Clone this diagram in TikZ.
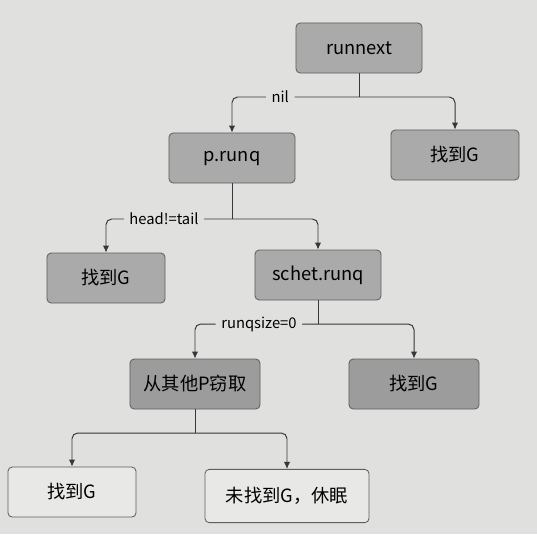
\documentclass[tikz,border=0pt]{standalone}
\usepackage{fontspec}
\setmainfont{Noto Sans CJK SC}
\usetikzlibrary{arrows.meta}
\definecolor{paper}{RGB}{224,224,222}
\definecolor{boxgray}{RGB}{170,170,170}
\definecolor{boxdark}{RGB}{156,156,156}
\definecolor{boxlight}{RGB}{232,232,230}
\definecolor{ink}{RGB}{55,55,55}

\begin{document}
\begin{tikzpicture}[x=0.025cm,y=-0.025cm,
  box/.style={draw=ink!80,line width=0.6pt,rounded corners=3pt,fill=boxgray,minimum width=3.15cm,minimum height=1.25cm,font=\fontsize{13}{15}\selectfont},
  arr/.style={draw=ink,line width=0.7pt,rounded corners=4pt,-{Latex[length=5pt,width=4.5pt]}},
  cond/.style={fill=paper,inner xsep=4pt,inner ysep=2pt,font=\fontsize{10.5}{12}\selectfont}]
\fill[paper] (0,0) rectangle (537,534);
\useasboundingbox (0,0) rectangle (537,534);
\node[box] (runnext) at (359,48) {runnext};
\node[box] (prunq) at (232,158) {p.runq};
\node[box,minimum width=3.2cm] (foundA) at (455,155) {找到G};
\node[box,minimum width=2.95cm] (foundB) at (106,278) {找到G};
\node[box] (schet) at (318,275) {schet.runq};
\node[box,minimum width=3.25cm,fill=boxgray!92!black] (steal) at (195,384) {从其他P窃取};
\node[box,minimum width=3.25cm,fill=boxdark] (foundC) at (414,384) {找到G};
\node[box,fill=boxlight,minimum width=3.2cm] (foundD) at (72,492) {找到G};
\node[box,fill=boxlight,minimum width=4.1cm,minimum height=1.33cm] (sleep) at (287,496) {未找到G，休眠};
\coordinate (jA) at (359,97);
\coordinate (jB) at (232,219);
\coordinate (jC) at (318,324);
\coordinate (jD) at (195,433);
\draw[draw=ink,line width=0.7pt] (runnext.south) -- (jA);
\draw[arr] (jA) -| node[cond,pos=0.31] {nil} (prunq.north);
\draw[arr] (jA) -| (foundA.north);
\draw[draw=ink,line width=0.7pt] (prunq.south) -- (jB);
\draw[arr] (jB) -| node[cond,pos=0.27] {head!=tail} (foundB.north);
\draw[arr] (jB) -| (schet.north);
\draw[draw=ink,line width=0.7pt] (schet.south) -- (jC);
\draw[arr] (jC) -| node[cond,pos=0.24] {runqsize=0} (steal.north);
\draw[arr] (jC) -| (foundC.north);
\draw[draw=ink,line width=0.7pt] (steal.south) -- (jD);
\draw[arr] (jD) -| (foundD.north);
\draw[arr] (jD) -| (sleep.north);
\end{tikzpicture}
\end{document}
